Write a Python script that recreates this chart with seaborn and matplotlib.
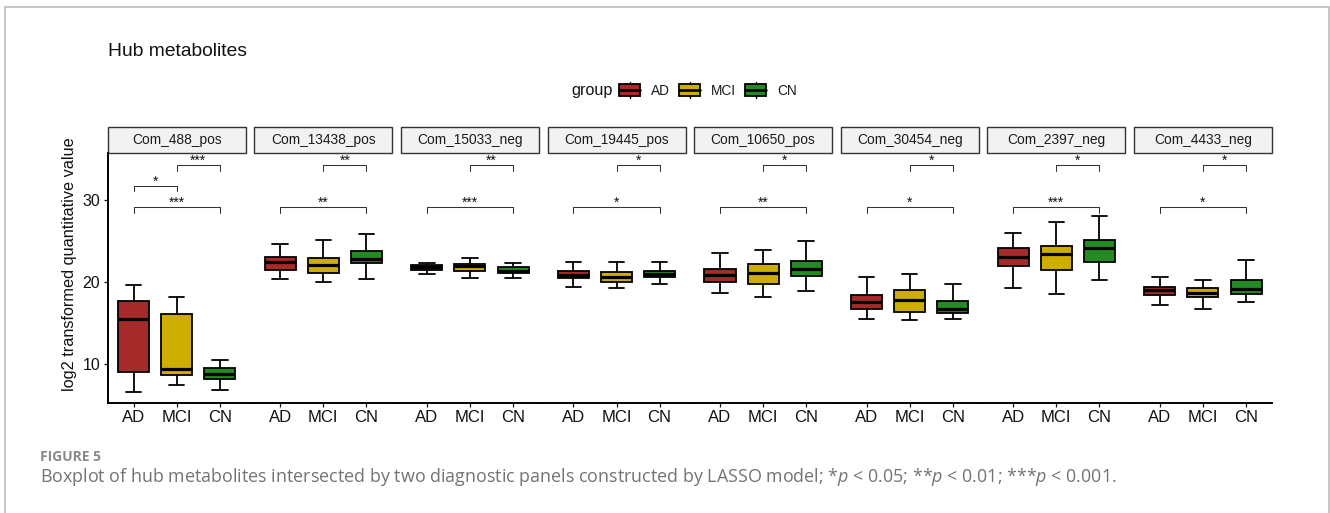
import numpy as np
import pandas as pd
import matplotlib
matplotlib.use("Agg")
import matplotlib.pyplot as plt
import seaborn as sns
from matplotlib.patches import Rectangle
from matplotlib.lines import Line2D
from matplotlib.legend_handler import HandlerBase

# ---------------- data ----------------
metabolites = ["Com_488_pos", "Com_13438_pos", "Com_15033_neg", "Com_19445_pos",
               "Com_10650_pos", "Com_30454_neg", "Com_2397_neg", "Com_4433_neg"]
groups = ["AD", "MCI", "CN"]

# five-number summaries: lower whisker, Q1, median, Q3, upper whisker
ad_stats = [
    [6.66, 9.10, 15.56, 17.72, 19.59],
    [20.37, 21.46, 22.51, 23.12, 24.67],
    [20.98, 21.50, 21.78, 22.07, 22.35],
    [19.43, 20.44, 20.89, 21.38, 22.44],
    [18.66, 20.04, 20.89, 21.59, 23.49],
    [15.49, 16.78, 17.60, 18.41, 20.68],
    [19.30, 21.95, 23.09, 24.10, 26.01],
    [17.20, 18.45, 18.98, 19.46, 20.68],
]
mci_stats = [
    [7.40, 8.66, 9.46, 16.17, 18.20],
    [20.07, 21.05, 22.11, 22.96, 25.16],
    [20.44, 21.41, 21.95, 22.15, 22.88],
    [19.30, 20.04, 20.65, 21.22, 22.51],
    [18.17, 19.79, 21.10, 22.23, 23.94],
    [15.32, 16.41, 17.80, 19.06, 21.01],
    [18.54, 21.50, 23.45, 24.43, 27.35],
    [16.78, 18.21, 18.73, 19.27, 20.28],
]
cn_stats = [
    [6.87, 8.24, 8.85, 9.51, 10.52],
    [20.32, 22.27, 22.80, 23.78, 25.89],
    [20.44, 21.10, 21.38, 21.83, 22.27],
    [19.71, 20.61, 21.01, 21.41, 22.39],
    [18.94, 20.80, 21.62, 22.56, 25.07],
    [15.49, 16.22, 16.78, 17.72, 19.76],
    [20.20, 22.48, 24.10, 25.12, 28.09],
    [17.63, 18.54, 19.15, 20.28, 22.68],
]

# significance labels per metabolite
sig_mci_cn = ["***", "**", "**", "*", "*", "*", "*", "*"]
sig_ad_mci = ["*", "", "", "", "", "", "", ""]
sig_ad_cn = ["***", "**", "***", "*", "**", "*", "***", "*"]
# bracket heights (y positions, as in ggsignif y_position)
y_mci_cn = 34.27
y_ad_mci = 31.74
y_ad_cn = 29.15

palette = {"AD": "#A52A2A", "MCI": "#CDAD00", "CN": "#228B22"}

rows = []
for i, m in enumerate(metabolites):
    for g, st in zip(groups, [ad_stats, mci_stats, cn_stats]):
        for v in st[i]:
            rows.append({"metabolite": m, "group": g, "value": v})
df = pd.DataFrame(rows)

# ---------------- style ----------------
sns.set_style("white")
plt.rcParams["font.family"] = ["Liberation Sans", "DejaVu Sans"]
plt.rcParams["mathtext.fontset"] = "custom"
plt.rcParams["mathtext.rm"] = "Open Sans"
plt.rcParams["mathtext.it"] = "Open Sans:italic"

W, H = 1330, 513
fig = plt.figure(figsize=(W / 100, H / 100), dpi=100)

p_left0, p_step, p_w = 107.7, 146.6, 138.0
p_top, p_bot = 153.3, 402.7
p_h = p_bot - p_top
strip_h = 26.6
tip = 0.68
txtcol = "#111111"

for k, m in enumerate(metabolites):
    ax = fig.add_axes([(p_left0 + k * p_step) / W, (H - p_bot) / H, p_w / W, p_h / H])
    sub = df[df["metabolite"] == m]
    sns.boxplot(data=sub, x="group", y="value", hue="group", order=groups,
                hue_order=groups, palette=palette, saturation=1, whis=(0, 100),
                width=0.72, linewidth=1.3, linecolor="black",
                medianprops={"linewidth": 2.3}, legend=False, ax=ax)
    ax.set_xlim(-0.6, 2.6)
    ax.set_ylim(5.3, 35.7)
    ax.set_xlabel("")
    ax.set_ylabel("")
    ax.set_yticks([10, 20, 30])
    for s in ["top", "right"]:
        ax.spines[s].set_visible(False)
    ax.spines["bottom"].set_linewidth(1.4)
    ax.spines["bottom"].set_color("black")
    lo = -0.6 if k == 0 else -0.7
    hi = 2.6 if k == len(metabolites) - 1 else 2.7
    ax.spines["bottom"].set_bounds(lo, hi)
    ax.tick_params(axis="x", length=3, width=0.9, pad=2.5, labelsize=12,
                   colors=txtcol, bottom=True)
    if k == 0:
        ax.spines["left"].set_linewidth(1.4)
        ax.spines["left"].set_color("black")
        ax.tick_params(axis="y", length=3, width=0.9, pad=2.5, labelsize=11.5,
                       colors=txtcol, left=True)
    else:
        ax.spines["left"].set_visible(False)
        ax.tick_params(axis="y", left=False, labelleft=False)

    # strip
    ax.add_patch(Rectangle((0, 1.0), 1, strip_h / p_h, transform=ax.transAxes,
                           clip_on=False, facecolor="#F2F2F2", edgecolor="#333333",
                           linewidth=1.0))
    ax.text(0.5, 1 + strip_h / p_h / 2, m, transform=ax.transAxes, ha="center",
            va="center", fontsize=9.9, color="#1a1a1a")

    # significance brackets
    for (x1, x2, yb, lab) in [(1, 2, y_mci_cn, sig_mci_cn[k]),
                              (0, 1, y_ad_mci, sig_ad_mci[k]),
                              (0, 2, y_ad_cn, sig_ad_cn[k])]:
        if not lab:
            continue
        ax.plot([x1, x1, x2, x2], [yb - tip, yb, yb, yb - tip], color="#333333",
                lw=0.75, clip_on=False)
        ax.text((x1 + x2) / 2, yb + 0.02, lab, ha="center", va="baseline",
                fontsize=10, color="#111111", clip_on=False)

# y label
fig.text(70 / W, 1 - 264 / H, "log2 transformed quantitative value", rotation=90,
         ha="center", va="center", fontsize=11.7, color=txtcol)

# title
fig.text(108 / W, 1 - 51.5 / H, "Hub metabolites", ha="left", va="center",
         fontsize=13.9, color="#111111")


# legend
class BoxHandler(HandlerBase):
    def create_artists(self, legend, orig_handle, xdescent, ydescent, width,
                       height, fontsize, trans):
        x0, y0 = -xdescent, -ydescent
        fc = orig_handle.get_facecolor()
        rect = Rectangle((x0, y0 + 0.13 * height), width, 0.74 * height,
                         facecolor=fc, edgecolor="black", linewidth=1.3,
                         transform=trans)
        med = Line2D([x0, x0 + width], [y0 + 0.5 * height] * 2, color="black",
                     lw=1.9, transform=trans)
        w1 = Line2D([x0 + width / 2] * 2, [y0, y0 + 0.13 * height], color="black",
                    lw=1.0, transform=trans)
        w2 = Line2D([x0 + width / 2] * 2, [y0 + 0.87 * height, y0 + height],
                    color="black", lw=1.0, transform=trans)
        return [rect, med, w1, w2]


handles = [Rectangle((0, 0), 1, 1, facecolor=palette[g]) for g in groups]
fig.legend(handles, groups, handler_map={Rectangle: BoxHandler()}, loc="center",
           bbox_to_anchor=(708 / W, 1 - 90 / H), ncol=3, frameon=False,
           fontsize=9.8, handlelength=1.52, handleheight=1.4, handletextpad=0.8,
           columnspacing=0.7, borderpad=0, borderaxespad=0,
           labelcolor="#1a1a1a")
fig.text(571.7 / W, 1 - 90 / H, "group", ha="left", va="center", fontsize=11.7,
         color="#111111")

# caption
fig.text(40 / W, 1 - 457 / H, "FIGURE 5", ha="left", va="center", fontsize=10,
         fontweight="bold", family="Open Sans", color="#8a8a8a")
fig.text(40 / W, 1 - 477 / H,
         "Boxplot of hub metabolites intersected by two diagnostic panels "
         "constructed by LASSO model; *$p$ < 0.05; **$p$ < 0.01; ***$p$ < 0.001.",
         ha="left", va="center", fontsize=12.85, family="Open Sans", color="#737373")

# frame
fc = "#BDBDBD"
fig.add_artist(Line2D([5.5 / W, 5.5 / W], [0, 1 - 6.5 / H], color=fc, lw=1.2))
fig.add_artist(Line2D([1328.5 / W, 1328.5 / W], [0, 1 - 6.5 / H], color=fc, lw=1.2))
fig.add_artist(Line2D([5.5 / W, 1328.5 / W], [1 - 6.5 / H, 1 - 6.5 / H], color=fc, lw=1.2))

fig.savefig("out.png", dpi=100)
